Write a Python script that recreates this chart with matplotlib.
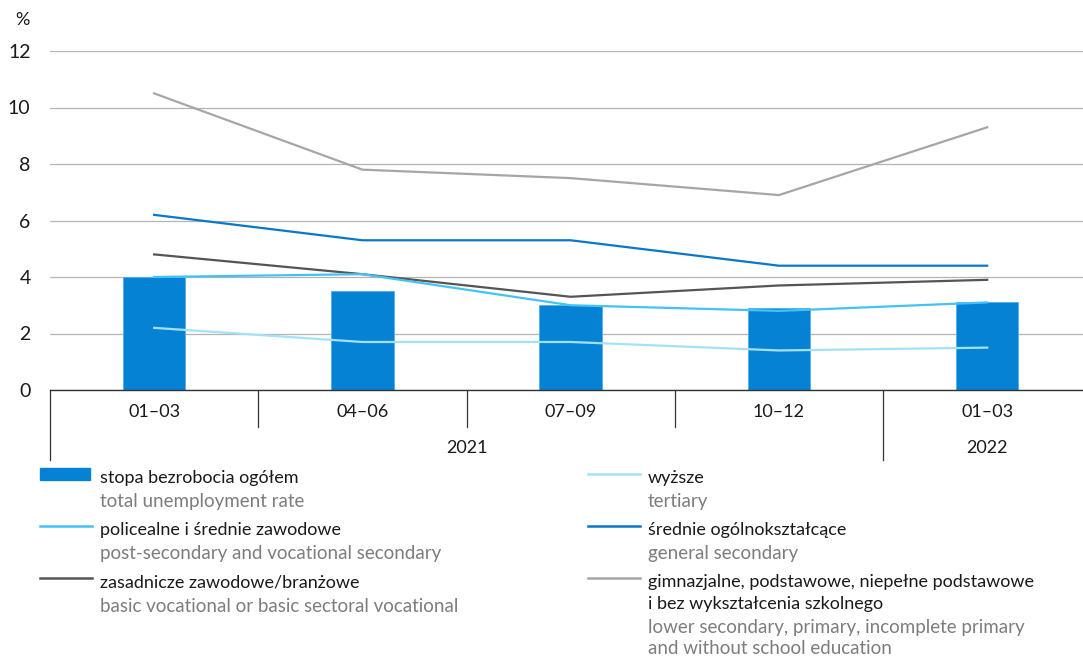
import numpy as np
import matplotlib.pyplot as plt
from matplotlib.lines import Line2D
from matplotlib.patches import Rectangle
from matplotlib.transforms import blended_transform_factory

plt.rcParams['font.family'] = ['Lato', 'DejaVu Sans']

# data
quarters = ["01–03", "04–06", "07–09", "10–12", "01–03"]
years = ["2021", "2022"]
year_len = [4, 1]
total = [4.0, 3.5, 3.0, 2.9, 3.1]
post_sec = [4.0, 4.1, 3.0, 2.8, 3.1]
tertiary = [2.2, 1.7, 1.7, 1.4, 1.5]
general_sec = [6.2, 5.3, 5.3, 4.4, 4.4]
basic_voc = [4.8, 4.1, 3.3, 3.7, 3.9]
lower_sec = [10.5, 7.8, 7.5, 6.9, 9.3]

c_bar = "#0582d4"
c_post = "#45c2f5"
c_tert = "#a3e1fa"
c_gen = "#0a78c8"
c_basic = "#555555"
c_lower = "#a6a6a6"

W, H = 1083, 659
fig = plt.figure(figsize=(W / 100, H / 100), dpi=100)
ax = fig.add_axes([50 / W, 1 - 390 / H, 1 - 50 / W, (390 - 51) / H])

x = np.arange(len(quarters))
ax.bar(x, total, width=0.30, color=c_bar, edgecolor="#4fb0ea", linewidth=0.6, zorder=2)
ax.plot(x, lower_sec, color=c_lower, lw=1.6, zorder=3)
ax.plot(x, general_sec, color=c_gen, lw=1.6, zorder=3)
ax.plot(x, basic_voc, color=c_basic, lw=1.6, zorder=3)
ax.plot(x, post_sec, color=c_post, lw=1.6, zorder=4)
ax.plot(x, tertiary, color=c_tert, lw=1.6, zorder=4)

ax.set_xlim(-0.5, len(quarters) - 0.54)
ax.set_ylim(0, 12)
ax.set_yticks(range(0, 13, 2))
ax.yaxis.grid(True, color="#b4b4b4", lw=0.9)
ax.set_axisbelow(True)
for s in ["top", "right", "left"]:
    ax.spines[s].set_visible(False)
ax.spines["bottom"].set_color("#333333")
ax.spines["bottom"].set_linewidth(1.0)
ax.tick_params(axis="y", length=0, pad=14, labelsize=14, labelcolor="#1a1a1a")
ax.set_xticks(x)
ax.set_xticklabels(quarters, fontsize=13, color="#1a1a1a")
ax.tick_params(axis="x", length=0, pad=10)
fig.text(22 / W, 1 - 20 / H, "%", fontsize=13, ha="center", va="center", color="#1a1a1a")

# separators and year labels
tr = blended_transform_factory(ax.transData, ax.transAxes)
year_starts = np.concatenate([[0], np.cumsum(year_len)[:-1]])
for b in np.arange(len(quarters)) - 0.5:
    long_line = b + 0.5 in year_starts
    ax.plot([b, b], [0, -0.206 if long_line else -0.109], transform=tr,
            color="#333333", lw=0.9, clip_on=False)
for i, yr in enumerate(years):
    s = year_starts[i]
    mid = s + (year_len[i] - 1) / 2 if year_len[i] > 1 else s
    ax.text(mid, -0.17, yr, transform=tr, ha="center", va="center",
            fontsize=13, color="#1a1a1a")

# legend
leg_pl = ["stopa bezrobocia ogółem", "policealne i średnie zawodowe",
          "zasadnicze zawodowe/branżowe", "wyższe", "średnie ogólnokształcące",
          "gimnazjalne, podstawowe, niepełne podstawowe\ni bez wykształcenia szkolnego"]
leg_en = ["total unemployment rate", "post-secondary and vocational secondary",
          "basic vocational or basic sectoral vocational", "tertiary",
          "general secondary",
          "lower secondary, primary, incomplete primary\nand without school education"]
leg_col = [c_bar, c_post, c_basic, c_tert, c_gen, c_lower]
col_x = [40, 588]
row_y = [478, 530, 582]
step = 22
for i in range(6):
    cx = col_x[i // 3]
    ry = row_y[i % 3]
    if i == 0:
        fig.patches.append(Rectangle((cx / W, 1 - 480 / H), 50 / W, 12 / H,
                                     transform=fig.transFigure, color=leg_col[i]))
    else:
        fig.lines.append(Line2D([cx / W, (cx + 52) / W], [1 - (ry - 4) / H] * 2,
                                transform=fig.transFigure, color=leg_col[i], lw=1.8))
    yy = ry
    for k, line in enumerate(leg_pl[i].split("\n")):
        fig.text((cx + 60) / W, 1 - yy / H, line, fontsize=13, color="#1a1a1a",
                 va="center", ha="left")
        yy += step
    yy += 2
    for k, line in enumerate(leg_en[i].split("\n")):
        fig.text((cx + 60) / W, 1 - yy / H, line, fontsize=13.5, color="#7d7d7d",
                 va="center", ha="left")
        yy += step - 1

fig.savefig("out.png", dpi=100)
